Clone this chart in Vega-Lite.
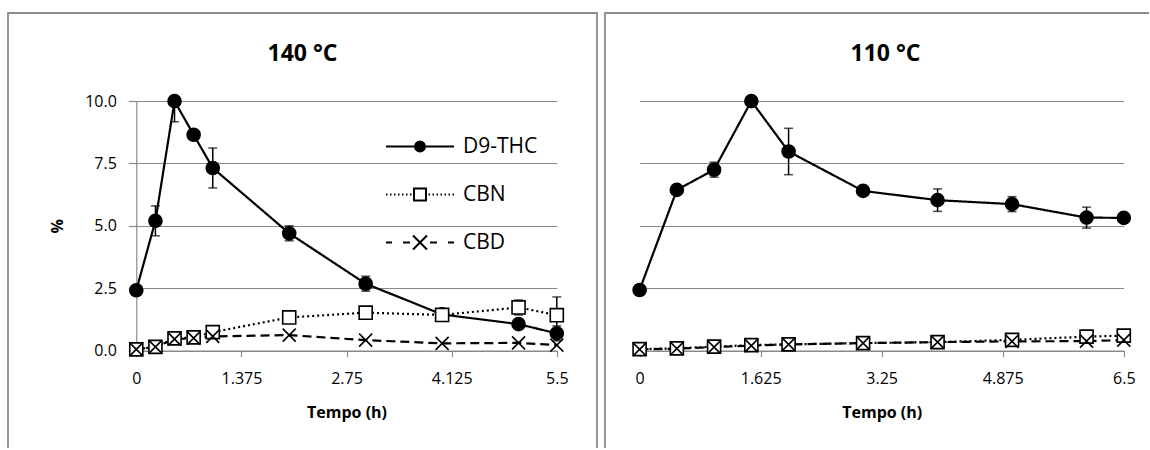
{
  "$schema": "https://vega.github.io/schema/vega-lite/v6.json",
  "padding": {"left": 7, "top": 12, "right": 0, "bottom": 0},
  "spacing": 6,
  "background": "white",
  "config": {
    "font": "Open Sans",
    "view": {"stroke": "#8c8c8c", "strokeWidth": 1.8},
    "axis": {
      "labelFont": "Open Sans", "labelFontSize": 16, "labelColor": "#000000",
      "titleFont": "Open Sans", "titleFontSize": 16, "titleFontWeight": "bold", "titleColor": "#000000",
      "domainColor": "#8a8a8a", "domainWidth": 1.2,
      "tickColor": "#8a8a8a", "tickWidth": 1.2,
      "gridColor": "#8a8a8a", "gridWidth": 1.2,
      "labelFlush": false, "labelOverlap": false
    },
    "title": {"font": "Open Sans", "fontSize": 23, "fontWeight": "bold", "color": "#000000", "anchor": "middle", "offset": -53}
  },
  "data": {
    "values": [
      {"p": 140, "s": "D9-THC", "t": 0, "v": 2.42},
      {"p": 140, "s": "D9-THC", "t": 0.25, "v": 5.2, "eu": 0.6, "el": -0.6},
      {"p": 140, "s": "D9-THC", "t": 0.5, "v": 10.0, "eu": 0, "el": -0.83},
      {"p": 140, "s": "D9-THC", "t": 0.75, "v": 8.65},
      {"p": 140, "s": "D9-THC", "t": 1.0, "v": 7.32, "eu": 0.8, "el": -0.8},
      {"p": 140, "s": "D9-THC", "t": 2.0, "v": 4.7, "eu": 0.3, "el": -0.3},
      {"p": 140, "s": "D9-THC", "t": 3.0, "v": 2.68, "eu": 0.3, "el": -0.3},
      {"p": 140, "s": "D9-THC", "t": 4.0, "v": 1.45},
      {"p": 140, "s": "D9-THC", "t": 5.0, "v": 1.06},
      {"p": 140, "s": "D9-THC", "t": 5.5, "v": 0.69, "eu": 0.3, "el": -0.3},
      {"p": 140, "s": "CBN", "t": 0, "v": 0.05},
      {"p": 140, "s": "CBN", "t": 0.25, "v": 0.15},
      {"p": 140, "s": "CBN", "t": 0.5, "v": 0.49},
      {"p": 140, "s": "CBN", "t": 0.75, "v": 0.53},
      {"p": 140, "s": "CBN", "t": 1.0, "v": 0.74},
      {"p": 140, "s": "CBN", "t": 2.0, "v": 1.33},
      {"p": 140, "s": "CBN", "t": 3.0, "v": 1.52},
      {"p": 140, "s": "CBN", "t": 4.0, "v": 1.43},
      {"p": 140, "s": "CBN", "t": 5.0, "v": 1.73, "eu": 0.3, "el": -0.3},
      {"p": 140, "s": "CBN", "t": 5.5, "v": 1.42, "eu": 0.73, "el": -0.73},
      {"p": 140, "s": "CBD", "t": 0, "v": 0.05},
      {"p": 140, "s": "CBD", "t": 0.25, "v": 0.15},
      {"p": 140, "s": "CBD", "t": 0.5, "v": 0.46},
      {"p": 140, "s": "CBD", "t": 0.75, "v": 0.5},
      {"p": 140, "s": "CBD", "t": 1.0, "v": 0.57},
      {"p": 140, "s": "CBD", "t": 2.0, "v": 0.62},
      {"p": 140, "s": "CBD", "t": 3.0, "v": 0.42},
      {"p": 140, "s": "CBD", "t": 4.0, "v": 0.29},
      {"p": 140, "s": "CBD", "t": 5.0, "v": 0.31},
      {"p": 140, "s": "CBD", "t": 5.5, "v": 0.22},
      {"p": 110, "s": "D9-THC", "t": 0, "v": 2.43},
      {"p": 110, "s": "D9-THC", "t": 0.5, "v": 6.44},
      {"p": 110, "s": "D9-THC", "t": 1.0, "v": 7.25, "eu": 0.3, "el": -0.3},
      {"p": 110, "s": "D9-THC", "t": 1.5, "v": 10.0},
      {"p": 110, "s": "D9-THC", "t": 2.0, "v": 7.98, "eu": 0.93, "el": -0.93},
      {"p": 110, "s": "D9-THC", "t": 3.0, "v": 6.4},
      {"p": 110, "s": "D9-THC", "t": 4.0, "v": 6.03, "eu": 0.45, "el": -0.45},
      {"p": 110, "s": "D9-THC", "t": 5.0, "v": 5.87, "eu": 0.3, "el": -0.3},
      {"p": 110, "s": "D9-THC", "t": 6.0, "v": 5.33, "eu": 0.42, "el": -0.42},
      {"p": 110, "s": "D9-THC", "t": 6.5, "v": 5.32},
      {"p": 110, "s": "CBN", "t": 0, "v": 0.06},
      {"p": 110, "s": "CBN", "t": 0.5, "v": 0.09},
      {"p": 110, "s": "CBN", "t": 1.0, "v": 0.16},
      {"p": 110, "s": "CBN", "t": 1.5, "v": 0.22},
      {"p": 110, "s": "CBN", "t": 2.0, "v": 0.25},
      {"p": 110, "s": "CBN", "t": 3.0, "v": 0.3},
      {"p": 110, "s": "CBN", "t": 4.0, "v": 0.34},
      {"p": 110, "s": "CBN", "t": 5.0, "v": 0.43},
      {"p": 110, "s": "CBN", "t": 6.0, "v": 0.56},
      {"p": 110, "s": "CBN", "t": 6.5, "v": 0.6},
      {"p": 110, "s": "CBD", "t": 0, "v": 0.05},
      {"p": 110, "s": "CBD", "t": 0.5, "v": 0.08},
      {"p": 110, "s": "CBD", "t": 1.0, "v": 0.14},
      {"p": 110, "s": "CBD", "t": 1.5, "v": 0.2},
      {"p": 110, "s": "CBD", "t": 2.0, "v": 0.25},
      {"p": 110, "s": "CBD", "t": 3.0, "v": 0.3},
      {"p": 110, "s": "CBD", "t": 4.0, "v": 0.34},
      {"p": 110, "s": "CBD", "t": 5.0, "v": 0.37},
      {"p": 110, "s": "CBD", "t": 6.0, "v": 0.38},
      {"p": 110, "s": "CBD", "t": 6.5, "v": 0.42}
    ]
  },
  "hconcat": [
    {
      "width": 589,
      "height": 435,
      "view": {"stroke": "#8c8c8c", "strokeWidth": 1.8, "strokeDash": [1024, 589, 435]},
      "title": {"text": "140 °C", "dx": 0},
      "transform": [{"filter": "datum.p == 140"}],
      "encoding": {
        "x": {
          "field": "t", "type": "quantitative",
          "scale": {"domain": [0, 5.5], "range": [128.3, 548.8], "nice": false, "zero": false},
          "axis": {"values": [0, 1.375, 2.75, 4.125, 5.5], "labelExpr": "'' + datum.value", "title": "Tempo (h)", "grid": false,
                   "offset": -97.4, "tickSize": 6, "labelPadding": 14, "titlePadding": 18}
        },
        "y": {
          "field": "v", "type": "quantitative",
          "scale": {"domain": [0, 10], "range": [337.6, 88.1], "nice": false},
          "axis": {"values": [0, 2.5, 5, 7.5, 10], "format": ".1f", "title": "%", "grid": true,
                   "offset": -128.3, "tickSize": 8, "labelPadding": 12, "titlePadding": 19}
        }
      },
      "layer": [
        {
          "mark": {"type": "line", "color": "black", "strokeWidth": 2.2},
          "encoding": {
            "strokeDash": {"field": "s", "type": "nominal",
              "scale": {"domain": ["D9-THC", "CBN", "CBD"], "range": [[1, 0], [2, 3], [9, 5]]}, "legend": null}
          }
        },
        {
          "transform": [{"filter": "isValid(datum.eu)"}],
          "mark": {"type": "errorbar", "ticks": true, "color": "black", "thickness": 1.5, "size": 9},
          "encoding": {"yError": {"field": "eu"}, "yError2": {"field": "el"}}
        },
        {
          "mark": {"type": "point", "filled": false, "opacity": 1, "strokeWidth": 1.6, "color": "black", "size": 170},
          "encoding": {
            "shape": {"field": "s", "type": "nominal",
              "scale": {"domain": ["D9-THC", "CBN", "CBD"], "range": ["circle", "square", "M-1,-1L1,1M-1,1L1,-1"]}, "legend": null},
            "fill": {"field": "s", "type": "nominal",
              "scale": {"domain": ["D9-THC", "CBN", "CBD"], "range": ["black", "white", "white"]}, "legend": null}
          }
        },
        {
          "transform": [{"filter": "false"}],
          "mark": {"type": "point", "filled": false, "opacity": 1, "color": "black", "size": 400},
          "encoding": {
            "shape": {"field": "s", "type": "nominal",
              "scale": {
                "domain": ["D9-THC", "CBN", "CBD"],
                "range": [
                  "M-3.4,0H-0.6M0.6,0H3.4M0.5,0C0.5,0.276,0.276,0.5,0,0.5C-0.276,0.5,-0.5,0.276,-0.5,0C-0.5,-0.276,-0.276,-0.5,0,-0.5C0.276,-0.5,0.5,-0.276,0.5,0ZM0.3,0C0.3,0.166,0.166,0.3,0,0.3C-0.166,0.3,-0.3,0.166,-0.3,0C-0.3,-0.166,-0.166,-0.3,0,-0.3C0.166,-0.3,0.3,-0.166,0.3,0ZM0.1,0C0.1,0.055,0.055,0.1,0,0.1C-0.055,0.1,-0.1,0.055,-0.1,0C-0.1,-0.055,-0.055,-0.1,0,-0.1C0.055,-0.1,0.1,-0.055,0.1,0Z",
                  "M-3.4,0H-3.25M-3.0,0H-2.85M-2.6,0H-2.45M-2.2,0H-2.05M-1.8,0H-1.65M-1.4,0H-1.25M-1.0,0H-0.85M0.85,0H1.0M1.25,0H1.4M1.65,0H1.8M2.05,0H2.2M2.45,0H2.6M2.85,0H3.0M3.25,0H3.4M-0.6,-0.6H0.6V0.6H-0.6Z",
                  "M-3.4,0H-2.8M-1.7,0H-1.0M1.0,0H1.7M2.8,0H3.4M-0.7,-0.7L0.7,0.7M-0.7,0.7L0.7,-0.7"
                ]
              },
              "legend": {
                "title": null, "orient": "none", "legendX": 401, "legendY": 122.5, "direction": "vertical",
                "padding": 0, "labelFont": "Open Sans", "labelFontSize": 21, "labelColor": "black",
                "labelOffset": 32, "rowPadding": 27, "symbolSize": 400, "symbolStrokeWidth": 2,
                "symbolStrokeColor": "black", "symbolFillColor": "white", "symbolOpacity": 1
              }
            }
          }
        }
      ],
      "resolve": {"scale": {"shape": "independent"}, "legend": {"shape": "independent"}}
    },
    {
      "width": 544,
      "height": 435,
      "view": {"stroke": "#8c8c8c", "strokeWidth": 1.8, "strokeDash": [544, 979, 435]},
      "title": {"text": "110 °C", "dx": 8.5},
      "transform": [{"filter": "datum.p == 110"}],
      "encoding": {
        "x": {
          "field": "t", "type": "quantitative",
          "scale": {"domain": [0, 6.5], "range": [34.6, 518.8], "nice": false, "zero": false},
          "axis": {"values": [0, 1.625, 3.25, 4.875, 6.5], "labelExpr": "'' + datum.value", "title": "Tempo (h)", "grid": false,
                   "offset": -97.4, "tickSize": 6, "labelPadding": 14, "titlePadding": 18}
        },
        "y": {
          "field": "v", "type": "quantitative",
          "scale": {"domain": [0, 10], "range": [337.6, 88.1], "nice": false},
          "axis": {"values": [0, 2.5, 5, 7.5, 10], "title": null, "grid": true, "domain": false,
                   "ticks": false, "labels": false, "offset": -34.6}
        }
      },
      "layer": [
        {
          "mark": {"type": "line", "color": "black", "strokeWidth": 2.2},
          "encoding": {
            "strokeDash": {"field": "s", "type": "nominal",
              "scale": {"domain": ["D9-THC", "CBN", "CBD"], "range": [[1, 0], [2, 3], [9, 5]]}, "legend": null}
          }
        },
        {
          "transform": [{"filter": "isValid(datum.eu)"}],
          "mark": {"type": "errorbar", "ticks": true, "color": "black", "thickness": 1.5, "size": 9},
          "encoding": {"yError": {"field": "eu"}, "yError2": {"field": "el"}}
        },
        {
          "mark": {"type": "point", "filled": false, "opacity": 1, "strokeWidth": 1.6, "color": "black", "size": 170},
          "encoding": {
            "shape": {"field": "s", "type": "nominal",
              "scale": {"domain": ["D9-THC", "CBN", "CBD"], "range": ["circle", "square", "M-1,-1L1,1M-1,1L1,-1"]}, "legend": null},
            "fill": {"field": "s", "type": "nominal",
              "scale": {"domain": ["D9-THC", "CBN", "CBD"], "range": ["black", "white", "white"]}, "legend": null}
          }
        }
      ]
    }
  ]
}
